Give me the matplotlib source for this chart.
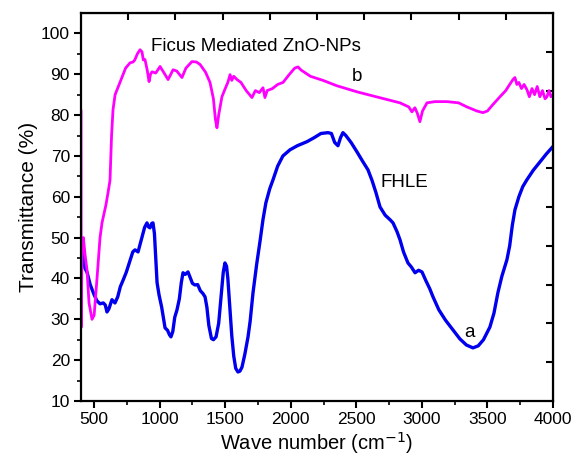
import numpy as np
import matplotlib
matplotlib.use("Agg")
import matplotlib.pyplot as plt

# ── Data ────────────────────────────────────────────────────
# (a) FHLE extract
fhle_x = [400, 415, 430, 446, 470, 500, 522, 545, 570, 585, 598, 612, 636, 659, 680,
          700, 720, 745, 770, 795, 812, 835, 860, 885, 903, 915, 926, 940, 949, 960,
          970, 980, 995, 1015, 1030, 1041, 1060, 1075, 1086, 1100, 1115, 1132, 1150,
          1165, 1178, 1195, 1216, 1235, 1250, 1269, 1290, 1310, 1330, 1346, 1360,
          1375, 1395, 1410, 1430, 1450, 1470, 1485, 1498, 1510, 1520, 1535, 1550,
          1565, 1580, 1597, 1612, 1628, 1650, 1674, 1690, 1712, 1740, 1765, 1788,
          1810, 1840, 1865, 1900, 1940, 1994, 2050, 2124, 2180, 2230, 2284, 2310,
          2335, 2360, 2380, 2398, 2420, 2460, 2505, 2550, 2589, 2620, 2650, 2681,
          2720, 2760, 2780, 2810, 2833, 2860, 2894, 2920, 2948, 2975, 3001, 3030,
          3060, 3085, 3130, 3180, 3237, 3290, 3340, 3390, 3430, 3470, 3519, 3550,
          3580, 3610, 3649, 3670, 3690, 3710, 3740, 3770, 3802, 3850, 3900, 3950, 4000]
fhle_y = [47, 46, 42.5, 41.5, 38.5, 36, 34.5, 33.8, 34, 33.5, 31.8, 32.5, 34.8, 34, 35.5,
          38, 39.5, 41.5, 44, 46.5, 47, 46.5, 49.5, 52.5, 53.6, 52.6, 52.4, 53.5, 53.6, 51,
          45, 39, 36, 33, 30, 27.9, 27.3, 26.2, 25.7, 27, 30.5, 32.3, 35,
          39, 41.4, 41, 41.6, 40, 38.8, 38.4, 38.5, 37, 36.3, 35.5, 33,
          28.5, 25.3, 25, 25.7, 29, 36, 41.5, 43.8, 43, 40, 33, 26,
          21, 18, 17.1, 17.3, 18.3, 21.5, 25.7, 29.5, 36.5, 43.5, 49, 54.4,
          58.5, 62, 64.2, 67.5, 70, 71.5, 72.5, 73.5, 74.5, 75.5, 75.7, 75.5,
          73.3, 72.5, 74.5, 75.7, 75, 73.3, 71, 68.6, 66.6, 64, 61, 57.5,
          55.5, 54.3, 53.6, 51.5, 49.5, 46.5, 43.8, 42.8, 41.4, 42, 41.6, 39.5,
          37.5, 35.5, 32.3, 29.8, 27.4, 25.2, 23.7, 23, 23.5, 25, 28.1, 31.5,
          36.5, 40.5, 44.6, 48, 53, 56.8, 60, 62.5, 64.2, 66.5, 68.5, 70.5, 72.3]

# (b) Ficus mediated ZnO-NPs
zno_x = [400, 401, 408, 418, 430, 446, 461, 484, 500, 522, 545, 560, 590, 606, 621,
         633, 644, 660, 697, 740, 774, 797, 810, 830, 850, 865, 875, 888, 905, 919,
         930, 942, 970, 1003, 1030, 1064, 1085, 1102, 1130, 1150, 1170, 1200, 1246,
         1280, 1308, 1350, 1384, 1410, 1425, 1437, 1450, 1475, 1500, 1520, 1537,
         1550, 1565, 1590, 1620, 1660, 1704, 1730, 1760, 1788, 1803, 1820, 1860,
         1900, 1941, 1990, 2030, 2055, 2080, 2150, 2246, 2350, 2505, 2650, 2833,
         2900, 2924, 2947, 2965, 2985, 3005, 3039, 3100, 3192, 3280, 3344, 3420,
         3466, 3500, 3540, 3596, 3640, 3670, 3695, 3710, 3725, 3740, 3760, 3780,
         3802, 3820, 3840, 3860, 3880, 3900, 3920, 3940, 3954, 3970, 3985, 4000]
zno_y = [81, 28, 48, 50, 46, 42, 34, 30, 31, 40, 50, 53.6, 58, 61, 64,
         75, 81.3, 85, 88, 91.5, 92.8, 93, 93.5, 95, 96, 95.5, 93.5, 93.6, 91, 88.2,
         90, 90.6, 90.3, 91.9, 90.5, 88.7, 90, 91.1, 90.8, 90, 89.2, 91.5, 93.1,
         93, 92.4, 90.5, 88, 84, 79, 76.9, 80, 84.5, 86.5, 88, 89.9,
         88.5, 89.5, 88.7, 88, 86, 84.3, 86, 85.5, 86.7, 84.3, 86, 86.5,
         87.5, 88, 90, 91.5, 91.8, 91, 89.5, 88.5, 87.2, 85.7, 84.5, 83,
         82, 80.8, 81.8, 80.5, 78.4, 81, 83, 83.3, 83.3, 83, 82, 81,
         80.6, 81, 82.5, 84.5, 86, 87.5, 88.7, 89.2, 87.5, 88, 86.5, 87.5,
         86.2, 84.5, 86.5, 85, 87, 84.5, 86, 84, 84.5, 86, 84.5, 85]

x_ticks = [500, 1000, 1500, 2000, 2500, 3000, 3500, 4000]
y_ticks = [10, 20, 30, 40, 50, 60, 70, 80, 90, 100]

plt.rcParams['font.family'] = ['Liberation Sans', 'DejaVu Sans']

fig = plt.figure(figsize=(5.73, 4.61), dpi=100)
ax = fig.add_axes([0.1414, 0.1302, 0.8236, 0.8416])

ax.plot(fhle_x, fhle_y, color="#0000ee", lw=2.4, solid_joinstyle="round")
ax.plot(zno_x, zno_y, color="#ff00ff", lw=2.0, solid_joinstyle="round")

ax.set_xlim(400, 4000)
ax.set_ylim(10, 105)
ax.set_xticks(x_ticks)
ax.set_yticks(y_ticks)
ax.set_xticks(np.arange(500, 4001, 250), minor=True)
ax.set_yticks(np.arange(10, 101, 5), minor=True)
ax.tick_params(which="major", direction="out", length=5, width=1.5, labelsize=12.5, pad=3)
ax.tick_params(which="minor", direction="out", length=3, width=1.2)
for s in ax.spines.values():
    s.set_linewidth(1.6)

# mirrored ticks on top/right (Origin style, 10 divisions)
top = ax.secondary_xaxis("top")
top.set_xticks(np.linspace(400, 4000, 11)[1:-1])
top.tick_params(direction="in", length=5, width=1.5, labeltop=False)
right = ax.secondary_yaxis("right")
right.set_yticks(np.linspace(10, 105, 11)[1:-1])
right.tick_params(direction="in", length=5, width=1.5, labelright=False)

ax.set_xlabel("Wave number (cm$^{-1}$)", fontsize=14.5, labelpad=2)
ax.set_ylabel("Transmittance (%)", fontsize=15, labelpad=2)

ax.text(934, 96.8, "Ficus Mediated ZnO-NPs", fontsize=13.5, va="center", ha="left")
ax.text(2505, 89.4, "b", fontsize=13.5, va="center", ha="center")
ax.text(2688, 63.4, "FHLE", fontsize=13.5, va="center", ha="left")
ax.text(3367, 26.7, "a", fontsize=13.5, va="center", ha="center")

fig.savefig("out.png", dpi=100)
